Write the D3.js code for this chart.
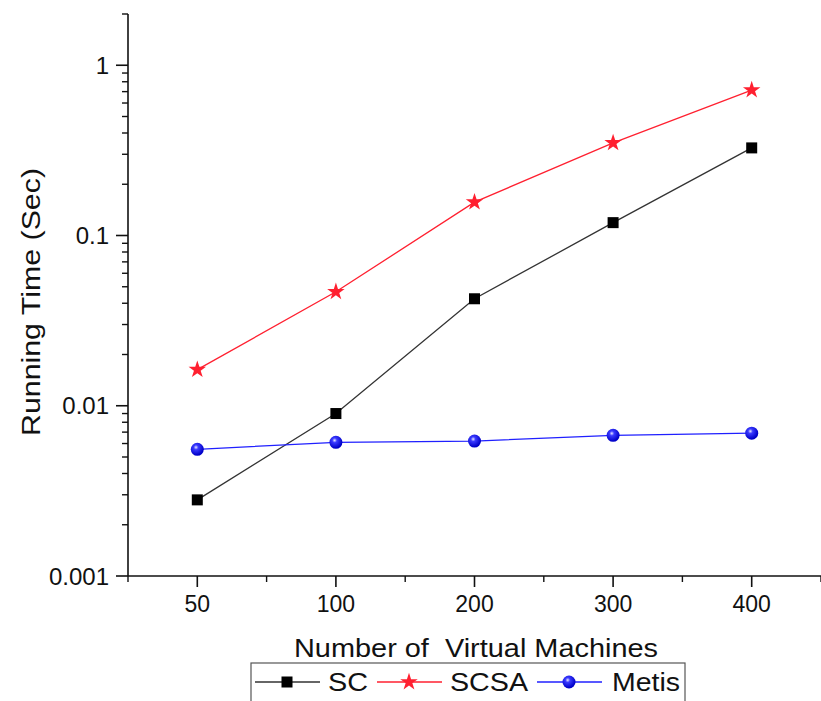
<!DOCTYPE html>
<html>
<head>
<meta charset="utf-8">
<script src="https://cdn.jsdelivr.net/npm/d3@7"></script>
<style>
  body { margin: 0; background: #fff; }
  text { font-family: "Liberation Sans", Arial, sans-serif; fill: #111; }
</style>
</head>
<body>
<svg id="svg" width="821" height="701"></svg>
<script>
var machines = [50, 100, 200, 300, 400];
var sc = [0.0028, 0.0090, 0.0425, 0.119, 0.327];
var scsa = [0.0163, 0.0467, 0.157, 0.350, 0.715];
var metis = [0.00555, 0.0061, 0.0062, 0.0067, 0.0069];
var yTicks = [0.001, 0.01, 0.1, 1];

var series = [
  { name: "SC", values: sc, color: "#333", marker: "square" },
  { name: "SCSA", values: scsa, color: "#ff2030", marker: "star" },
  { name: "Metis", values: metis, color: "#2020ff", marker: "circle" }
];

var svg = d3.select("#svg");

var defs = svg.append("defs");
var grad = defs.append("radialGradient")
    .attr("id", "ball")
    .attr("cx", "40%").attr("cy", "35%").attr("r", "60%");
grad.append("stop").attr("offset", "0%").attr("stop-color", "#e8e8ff");
grad.append("stop").attr("offset", "30%").attr("stop-color", "#3a3aff");
grad.append("stop").attr("offset", "100%").attr("stop-color", "#0000c8");

var x = d3.scalePoint().domain(machines).range([128, 821]).padding(0.5);
var y = d3.scaleLog().domain([0.001, 2]).range([576, 14]);

// y axis with minor ticks
var minor = [];
for (var e = -3; e <= 0; e++) {
  for (var m = 2; m <= 9; m++) {
    var v = m * Math.pow(10, e);
    if (v <= 2.0001) minor.push(v);
  }
}

var yAxis = svg.append("g").attr("transform", "translate(128,0)");
yAxis.append("line").attr("x1", 0).attr("x2", 0).attr("y1", y(2)).attr("y2", 576)
    .attr("stroke", "#111").attr("stroke-width", 1.6);
yAxis.selectAll(".minor").data(minor).enter().append("line")
    .attr("x1", -6).attr("x2", 0).attr("y1", d => y(d)).attr("y2", d => y(d))
    .attr("stroke", "#111").attr("stroke-width", 1.4);
yAxis.selectAll(".major").data(yTicks).enter().append("line")
    .attr("x1", -12).attr("x2", 0).attr("y1", d => y(d)).attr("y2", d => y(d))
    .attr("stroke", "#111").attr("stroke-width", 1.6);
yAxis.selectAll(".lbl").data(yTicks).enter().append("text")
    .attr("x", -19).attr("y", d => y(d)).attr("dy", "0.36em")
    .attr("text-anchor", "end").attr("font-size", 24)
    .text(d => d3.format("~g")(d));

// x axis
var xAxisG = svg.append("g").attr("transform", "translate(0,576)");
xAxisG.append("line").attr("x1", 128).attr("x2", 821).attr("y1", 0).attr("y2", 0)
    .attr("stroke", "#111").attr("stroke-width", 1.6);
var step = x.step();
var mids = [128].concat(machines.map(d => x(d) + step / 2));
xAxisG.selectAll(".minor").data(mids).enter().append("line")
    .attr("x1", d => d).attr("x2", d => d).attr("y1", 0).attr("y2", 6)
    .attr("stroke", "#111").attr("stroke-width", 1.4);
xAxisG.selectAll(".major").data(machines).enter().append("line")
    .attr("x1", d => x(d)).attr("x2", d => x(d)).attr("y1", 0).attr("y2", 11)
    .attr("stroke", "#111").attr("stroke-width", 1.6);
xAxisG.selectAll(".lbl").data(machines).enter().append("text")
    .attr("x", d => x(d)).attr("y", 36)
    .attr("text-anchor", "middle").attr("font-size", 23)
    .text(d => d);

// titles (the source text is a bit wider than the font, hence textLength)
svg.append("text")
    .attr("transform", "translate(40,302) rotate(-90)")
    .attr("text-anchor", "middle").attr("font-size", 26)
    .attr("textLength", 268).attr("lengthAdjust", "spacingAndGlyphs")
    .text("Running Time (Sec)");
svg.append("text")
    .attr("x", 476).attr("y", 657)
    .attr("text-anchor", "middle").attr("font-size", 26)
    .attr("textLength", 364).attr("lengthAdjust", "spacingAndGlyphs")
    .style("white-space", "pre")
    .text("Number of  Virtual Machines");

function drawMarker(g, type, cx, cy, color) {
  if (type === "square") {
    g.append("rect").attr("x", cx - 5.5).attr("y", cy - 5.5)
        .attr("width", 11).attr("height", 11).attr("fill", "#000");
  } else if (type === "star") {
    g.append("path")
        .attr("d", d3.symbol().type(d3.symbolStar).size(95)())
        .attr("transform", "translate(" + cx + "," + cy + ")")
        .attr("fill", color);
  } else {
    g.append("circle").attr("cx", cx).attr("cy", cy).attr("r", 6.5)
        .attr("fill", "url(#ball)");
  }
}

var line = d3.line().x((d, i) => x(machines[i])).y(d => y(d));

series.forEach(s => {
  var g = svg.append("g");
  g.append("path").datum(s.values)
      .attr("d", line).attr("fill", "none")
      .attr("stroke", s.color).attr("stroke-width", 1.3);
  s.values.forEach((v, i) => drawMarker(g, s.marker, x(machines[i]), y(v), s.color));
});

// legend
var legend = svg.append("g");
legend.append("rect").attr("x", 251).attr("y", 663).attr("width", 434).attr("height", 45)
    .attr("fill", "#fff").attr("stroke", "#555").attr("stroke-width", 1.2);
var legendPos = [
  { x0: 255, text: 328, w: 40 },
  { x0: 377, text: 450, w: 78 },
  { x0: 537, text: 612, w: 68 }
];
series.forEach((s, i) => {
  var p = legendPos[i];
  var ly = 682;
  legend.append("line").attr("x1", p.x0).attr("x2", p.x0 + 65)
      .attr("y1", ly).attr("y2", ly).attr("stroke", s.color).attr("stroke-width", 1.3);
  drawMarker(legend, s.marker, p.x0 + 32, ly, s.color);
  legend.append("text").attr("x", p.text).attr("y", 691)
      .attr("font-size", 26)
      .attr("textLength", p.w).attr("lengthAdjust", "spacingAndGlyphs")
      .text(s.name);
});
</script>
</body>
</html>
